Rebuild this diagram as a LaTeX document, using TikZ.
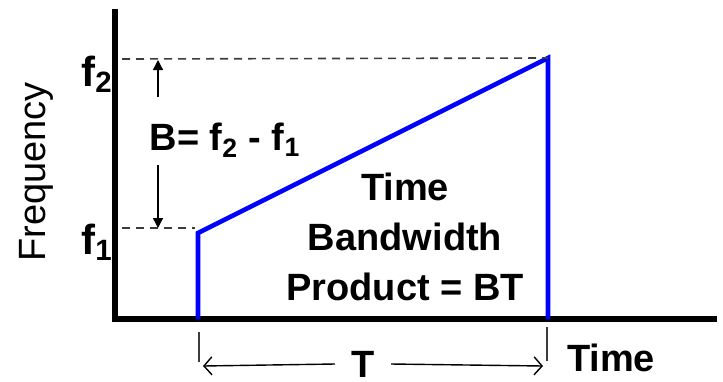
\documentclass[tikz,border=0pt]{standalone}
\usepackage{fontspec}
\setmainfont{Liberation Sans}
\usepackage{tikz}
\usetikzlibrary{positioning,arrows.meta}
\definecolor{sweepBlue}{HTML}{0000FF}
\definecolor{guideGray}{HTML}{3C3C3C}

\begin{document}
\begin{tikzpicture}[x=0.5pt, y=-0.5pt, font=\fontsize{19}{25}\selectfont\bfseries,
    axis/.style={line width=2.6pt},
    sweep/.style={sweepBlue, line width=2.3pt},
    guide/.style={guideGray, line width=0.8pt, dash pattern=on 4pt off 3pt},
    dimline/.style={black, line width=0.7pt}]
  \useasboundingbox (0,0) rectangle (723,381);

  % Axes
  \coordinate (ytop) at (115,9);
  \coordinate (orig) at (115,319);
  \coordinate (xend) at (717,319);
  \draw[axis] (ytop) -- (orig) -- (xend);

  % Chirp
  \coordinate (s0) at (198,319);
  \coordinate (s1) at (198,233);
  \coordinate (s2) at (548,58);
  \coordinate (s3) at (548,319);
  \draw[sweep] (s0) -- (s1) -- (s2) -- (s3);

  % Levels
  \coordinate (f2start) at (122,59);
  \coordinate (f1start) at (122,228);
  \coordinate (f1end) at (195,228);
  \draw[guide] (f2start) -- (s2);
  \draw[guide] (f1start) -- (f1end);

  \node[font=\fontsize{19}{19}\selectfont\mdseries, rotate=90] (freq) at (36,172) {Frequency};
  \node[font=\fontsize{21}{21}\selectfont\bfseries] (f2) at (97,74) {f\textsubscript{2}};
  \node[font=\fontsize{21}{21}\selectfont\bfseries] (f1) at (97,242) {f\textsubscript{1}};

  % Bandwidth
  \node (bw) at (225,140) {B= f\textsubscript{2} - f\textsubscript{1}};
  \coordinate (bupfrom) at (158,97);
  \coordinate (bupto) at (158,60);
  \coordinate (bdownfrom) at (158,165);
  \coordinate (bdownto) at (158,228);
  \draw[dimline, -{Triangle[length=5pt, width=5pt]}] (bupfrom) -- (bupto);
  \draw[dimline, -{Triangle[length=5pt, width=5pt]}] (bdownfrom) -- (bdownto);

  \node[align=center] (tbp) at (405,237) {Time\\Bandwidth\\Product = BT};

  % Duration
  \coordinate (tick0a) at (199,332);
  \coordinate (tick0b) at (199,362);
  \coordinate (tick1a) at (547,327);
  \coordinate (tick1b) at (547,361);
  \draw[guideGray, line width=0.8pt] (tick0a) -- (tick0b);
  \draw[guideGray, line width=0.8pt] (tick1a) -- (tick1b);
  \coordinate (tl) at (203,366);
  \coordinate (tr) at (543,366);
  \node[inner xsep=8pt] (dur) at (363,364) {T};
  \draw[dimline, -{Straight Barb[length=4pt, width=9pt]}] (dur.west) -- (tl);
  \draw[dimline, -{Straight Barb[length=4pt, width=9pt]}] (dur.east) -- (tr);

  \node (time) at (611,358) {Time};
\end{tikzpicture}
\end{document}
